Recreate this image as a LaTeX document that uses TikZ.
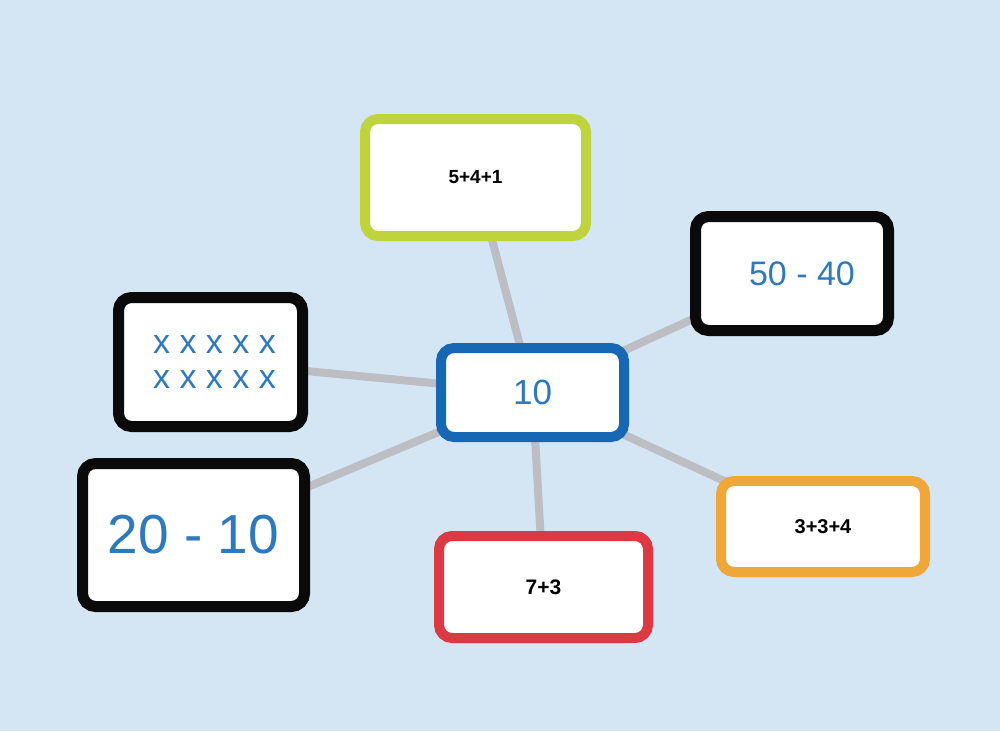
\documentclass[tikz,border=0pt]{standalone}
\usepackage{fontspec}
\setmainfont{Liberation Sans}
\usepackage{xcolor}
\usepackage{tikz}

\definecolor{skyback}{RGB}{212,229,244}
\definecolor{linkgray}{RGB}{189,190,196}
\definecolor{limegreen}{RGB}{190,211,60}
\definecolor{centreblue}{RGB}{22,104,180}
\definecolor{cardred}{RGB}{221,57,66}
\definecolor{cardorange}{RGB}{240,167,58}
\definecolor{cardblack}{RGB}{10,10,10}
\definecolor{inkblue}{RGB}{46,120,190}

\pgfdeclarelayer{bg}
\pgfdeclarelayer{links}
\pgfsetlayers{bg,links,main}

\begin{document}
\begin{tikzpicture}[x=1pt, y=-1pt,
  every node/.style={rectangle, rounded corners=13pt, line width=10pt, fill=white, inner sep=0pt},
  typed/.style={font=\bfseries\fontsize{20}{24}\selectfont},
  hand/.style={text=inkblue},
  blackcard/.style={draw=cardblack, line width=11pt},
  link/.style={line width=8pt, color=linkgray}]

% Background
\begin{pgfonlayer}{bg}
\fill[skyback] (0,0) rectangle (1000,731);
\end{pgfonlayer}

% Cards
\node[draw=centreblue, minimum width=183pt, minimum height=89pt, hand, font=\fontsize{35}{40}\selectfont] (ten) at (532.5,392.5) {10};
\node[draw=limegreen, minimum width=221pt, minimum height=117pt, typed, font=\bfseries\fontsize{19}{22}\selectfont] (s541) at (475.5,177.5) {5+4+1};
\node[blackcard, minimum width=193pt, minimum height=114pt, hand, font=\fontsize{34}{40}\selectfont] (d5040) at (792,273.5) {\hspace{20pt}50 - 40};
\node[blackcard, minimum width=184pt, minimum height=129pt, hand, align=center, font=\fontsize{34}{35}\selectfont] (marks) at (210.5,362) {\hspace{8pt}x x x x x\\ \hspace{8pt}x x x x x};
\node[blackcard, minimum width=222pt, minimum height=143pt, hand, font=\fontsize{55}{60}\selectfont] (d2010) at (193.5,535) {20 - 10};
\node[draw=cardred, minimum width=209pt, minimum height=102pt, typed, font=\bfseries\fontsize{21}{24}\selectfont] (s73) at (543.5,587) {7+3};
\node[draw=cardorange, minimum width=204pt, minimum height=91pt, typed] (s334) at (823,526.5) {3+3+4};

%Lines
\begin{pgfonlayer}{links}
\draw[link] (ten.center) -- (s541.center);
\draw[link] (ten.center) -- (d5040.center);
\draw[link] (ten.center) -- (marks.center);
\draw[link] (ten.center) -- (d2010.center);
\draw[link] (ten.center) -- (s73.center);
\draw[link] (ten.center) -- (s334.center);
\end{pgfonlayer}
\end{tikzpicture}
\end{document}
